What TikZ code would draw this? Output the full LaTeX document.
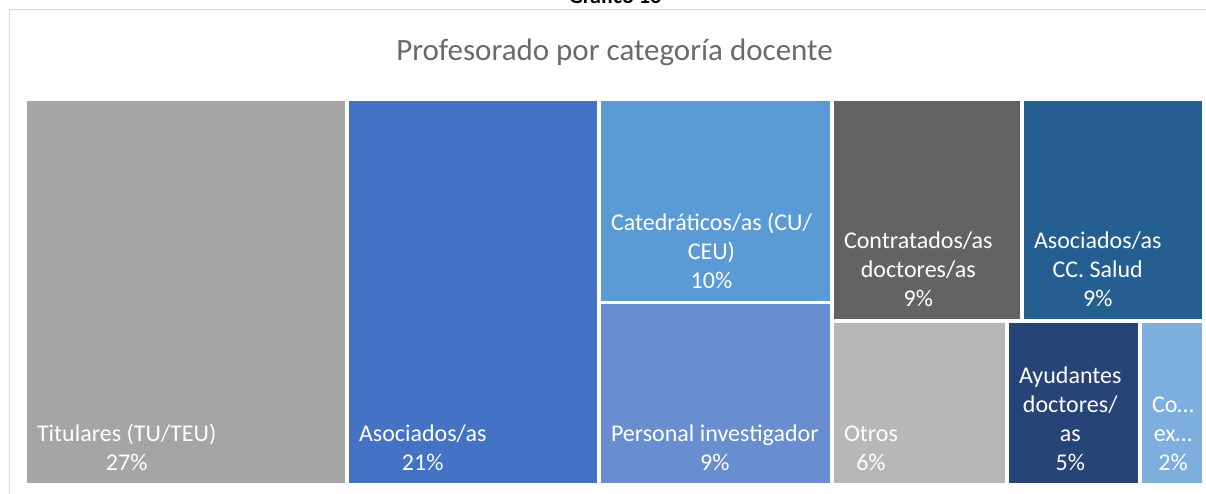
\documentclass[tikz,border=0pt]{standalone}
\usepackage{fontspec}
\setmainfont{Carlito}
\definecolor{cTit}{HTML}{A5A5A5}
\definecolor{cAso}{HTML}{4472C4}
\definecolor{cCat}{HTML}{5B9BD5}
\definecolor{cPI}{HTML}{698ED0}
\definecolor{cCon}{HTML}{636363}
\definecolor{cCCS}{HTML}{255E91}
\definecolor{cOtr}{HTML}{B7B7B7}
\definecolor{cAyu}{HTML}{264478}
\definecolor{cCo}{HTML}{7CAFDD}
\definecolor{cTitle}{HTML}{6A6A6A}
\definecolor{cFrame}{HTML}{D9D9D9}
\begin{document}
\begin{tikzpicture}[x=1pt,y=-1pt,
  box/.style={anchor=north west,inner sep=0pt,outer sep=0pt,draw=none},
  lbl/.style={anchor=south west,inner sep=0pt,outer sep=0pt,text=white,align=center,
    font=\fontsize{24}{29}\selectfont,xshift=10pt,yshift=4pt}]
\useasboundingbox (0,0) rectangle (1206,493);
\fill[white] (0,0) rectangle (1206,493);
\draw[cFrame,line width=1pt] (9.5,560) -- (9.5,9.5) -- (1260,9.5);
\node[anchor=base,font=\bfseries\fontsize{22}{26}\selectfont] (cap) at (615,3.5) {Gráfico 13};
\node[anchor=base,text=cTitle,font=\fontsize{31}{36}\selectfont] (title) at (614.5,60) {Profesorado por categoría docente};
% boxes
\node[box,fill=cTit,minimum width=318pt,minimum height=382pt] (tit) at (27,101) {};
\node[box,fill=cAso,minimum width=248pt,minimum height=382pt] (aso) at (349,101) {};
\node[box,fill=cCat,minimum width=229pt,minimum height=200pt] (cat) at (601,101) {};
\node[box,fill=cPI,minimum width=229pt,minimum height=179pt] (pi) at (601,304) {};
\node[box,fill=cCon,minimum width=186pt,minimum height=218pt] (con) at (834,101) {};
\node[box,fill=cCCS,minimum width=178pt,minimum height=218pt] (ccs) at (1024,101) {};
\node[box,fill=cOtr,minimum width=171pt,minimum height=160pt] (otr) at (834,323) {};
\node[box,fill=cAyu,minimum width=129pt,minimum height=160pt] (ayu) at (1009,323) {};
\node[box,fill=cCo,minimum width=60pt,minimum height=160pt] (co) at (1142,323) {};
% labels
\node[lbl] (ltit) at (tit.south west) {Titulares (TU/TEU)\\27\%\strut};
\node[lbl] (laso) at (aso.south west) {Asociados/as\\21\%\strut};
\node[lbl] (lcat) at (cat.south west) {Catedráticos/as (CU/\\CEU)\\10\%\strut};
\node[lbl] (lpi) at (pi.south west) {Personal investigador\\9\%\strut};
\node[lbl] (lcon) at (con.south west) {Contratados/as\\doctores/as\\9\%\strut};
\node[lbl] (lccs) at (ccs.south west) {Asociados/as\\CC. Salud\\9\%\strut};
\node[lbl] (lotr) at (otr.south west) {Otros\\6\%\strut};
\node[lbl] (layu) at (ayu.south west) {Ayudantes\\doctores/\\as\\5\%\strut};
\node[lbl] (lco) at (co.south west) {Co…\\ex…\\2\%\strut};
\end{tikzpicture}
\end{document}
